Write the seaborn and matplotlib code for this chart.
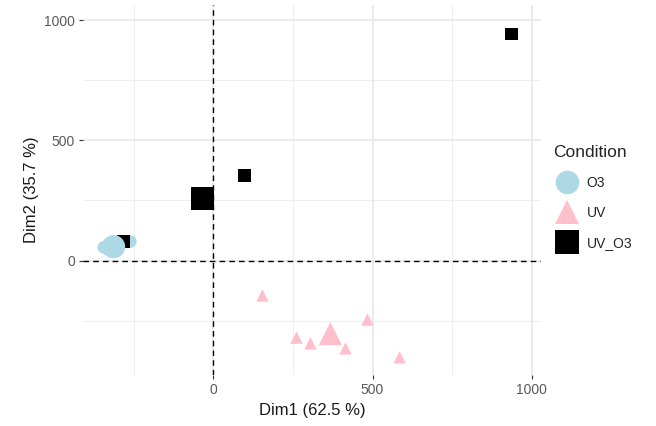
import pandas as pd
import seaborn as sns
import matplotlib.pyplot as plt

# individual coordinates on the first two dimensions
o3_x = [-261, -330, -345, -320, -305, -323]
o3_y = [79, 45, 55, 65, 40, 64]
uv_x = [154, 261, 305, 415, 484, 585]
uv_y = [-145, -320, -344, -365, -245, -402]
uvo3_x = [937, 97, -283, -322, -315, -318]
uvo3_y = [942, 353, 79, 52, 60, 55]

groups = ['O3', 'UV', 'UV_O3']
palette = {'O3': '#ADD8E6', 'UV': '#FFC0CB', 'UV_O3': '#000000'}
markers = {'O3': 'o', 'UV': '^', 'UV_O3': 's'}

df = pd.DataFrame({
    'Dim1': o3_x + uv_x + uvo3_x,
    'Dim2': o3_y + uv_y + uvo3_y,
    'Condition': ['O3'] * len(o3_x) + ['UV'] * len(uv_x) + ['UV_O3'] * len(uvo3_x),
})
means = df.groupby('Condition', as_index=False)[['Dim1', 'Dim2']].mean()

sns.set_theme(style='white')
plt.rcParams['font.family'] = ['Liberation Sans', 'DejaVu Sans']

fig = plt.figure(figsize=(6.56, 4.26), dpi=100)
ax = fig.add_axes([0.127, 0.12, 0.697, 0.868])

# grid like ggplot theme_minimal
for v in [-250, 250, 750]:
    ax.axvline(v, color='#EEEEEE', lw=0.8, zorder=0)
    ax.axhline(v, color='#EEEEEE', lw=0.8, zorder=0)
for v in [0, 500, 1000]:
    ax.axvline(v, color='#E6E6E6', lw=1.1, zorder=0)
    ax.axhline(v, color='#E6E6E6', lw=1.1, zorder=0)

ax.axhline(0, color='black', lw=1.0, ls=(0, (4, 3)), zorder=1)
ax.axvline(0, color='black', lw=1.0, ls=(0, (4, 3)), zorder=1)

sns.scatterplot(data=df, x='Dim1', y='Dim2', hue='Condition', style='Condition',
                hue_order=groups, style_order=groups, palette=palette, markers=markers,
                s=80, linewidth=0, legend=False, ax=ax, zorder=2)
sns.scatterplot(data=means, x='Dim1', y='Dim2', hue='Condition', style='Condition',
                hue_order=groups, style_order=groups, palette=palette, markers=markers,
                s=280, linewidth=0, ax=ax, zorder=3)

ax.set_xlim(-409, 1028)
ax.set_ylim(-475, 1062)
ax.set_xticks([0, 500, 1000])
ax.set_yticks([0, 500, 1000])
ax.tick_params(length=3, width=0.8, color='#333333', labelcolor='#5A5A5A', labelsize=10, pad=3,
               bottom=True, left=True)
for sp in ax.spines.values():
    sp.set_visible(False)
ax.set_xlabel('Dim1 (62.5 %)', fontsize=12, color='#1A1A1A')
ax.set_ylabel('Dim2 (35.7 %)', fontsize=12, color='#1A1A1A')

leg = ax.legend(title='Condition', loc='center left', bbox_to_anchor=(1.0, 0.48),
                frameon=False, fontsize=10, title_fontsize=12.5,
                handletextpad=0.4, labelspacing=1.15, alignment='left')
for h in leg.legend_handles:
    h.set_markersize(17)
    h.set_markeredgewidth(0)

fig.savefig('out.png', dpi=100)
